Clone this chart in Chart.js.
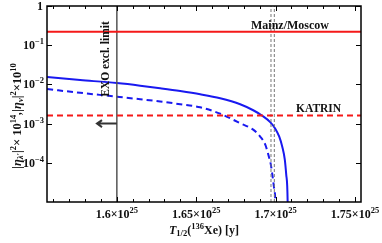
<!DOCTYPE html>
<html lang="en">
<head>
    <meta charset="UTF-8">
    <title>Half-life bounds</title>
    <script src="https://cdn.jsdelivr.net/npm/chart.js"></script>
    <style>
        html, body { margin: 0; padding: 0; background: #fff; }
    </style>
</head>
<body>
    <div style="width: 382px; height: 243px;">
        <canvas id="chart" width="382" height="243"></canvas>
    </div>

    <script>
        // x values in units of 10^25 years
        const xRange = [1.556, 1.7538];
        const yRange = [1e-5, 1];
        const xMajorTicks = [1.6, 1.65, 1.7, 1.75];
        const xTickLabels = ['1.6', '1.65', '1.7', '1.75'];
        const yMajorTicks = [1, 1e-1, 1e-2, 1e-3, 1e-4];
        const yTickExp = [null, '\u22121', '\u22122', '\u22123', '\u22124'];

        // horizontal bounds
        const mainzLevel = 0.22;
        const katrinLevel = 0.0016;

        // EXO exclusion line and the two thin dashed lines
        const exoLimit = 1.6;
        const grayDashedX = [1.6971, 1.6992];

        // blue solid curve
        const solidX = [1.5561, 1.5769, 1.6, 1.6147, 1.6273, 1.6399, 1.6525, 1.6651, 1.6777, 1.6859,
                        1.6916, 1.6966, 1.6998, 1.7023, 1.7042, 1.7058, 1.7067, 1.7076, 1.7078];
        const solidY = [0.01534, 0.01294, 0.01079, 0.00927, 0.00796, 0.00676, 0.0056, 0.00443, 0.00312, 0.00219,
                        0.00159, 0.00109, 0.000742, 0.000464, 0.000258, 0.000121, 0.00005, 0.0000097, 0.000001];

        // blue dashed curve
        const dashedX = [1.5561, 1.5769, 1.6, 1.6147, 1.6273, 1.6399, 1.6525, 1.6651, 1.6777, 1.6859,
                         1.6903, 1.6935, 1.6954, 1.697, 1.6982, 1.6992, 1.6998, 1.7];
        const dashedY = [0.00759, 0.00611, 0.00486, 0.00418, 0.00367, 0.00312, 0.00261, 0.00179, 0.00102, 0.0007,
                         0.000464, 0.00029, 0.000162, 0.00009, 0.000042, 0.0000208, 0.0000097, 0.000001];

        // arrow next to the EXO line
        const arrowFromX = 1.6;
        const arrowToX = 1.5875;
        const arrowY = 0.001;

        const RED = 'rgb(245,25,25)';
        const BLUE = 'rgb(25,25,240)';
        const FONT = '"Liberation Serif", "Times New Roman", serif';

        const toPoints = (xs, ys) => xs.map((x, i) => ({ x: x, y: ys[i] }));

        // draws text made of pieces with different sizes / offsets (sub and superscripts)
        function drawRich(ctx, parts, x, y, align) {
            let total = 0;
            parts.forEach(p => {
                ctx.font = (p.italic ? 'italic ' : '') + 'bold ' + p.size + 'px ' + FONT;
                p.w = ctx.measureText(p.t).width;
                total += p.w;
            });
            let cx = x;
            if (align === 'center') cx = x - total / 2;
            if (align === 'right') cx = x - total;
            ctx.textAlign = 'left';
            ctx.textBaseline = 'alphabetic';
            parts.forEach(p => {
                ctx.font = (p.italic ? 'italic ' : '') + 'bold ' + p.size + 'px ' + FONT;
                ctx.fillText(p.t, cx, y + (p.dy || 0));
                cx += p.w;
            });
        }

        const framePlugin = {
            id: 'frame',
            afterDraw(chart) {
                const ctx = chart.ctx;
                const a = chart.chartArea;
                const xs = chart.scales.x;
                const ys = chart.scales.y;
                ctx.save();

                // frame
                ctx.strokeStyle = '#000';
                ctx.lineWidth = 1.5;
                ctx.strokeRect(a.left, a.top, a.right - a.left, a.bottom - a.top);

                // inward ticks
                ctx.lineWidth = 1;
                ctx.beginPath();
                for (let i = 156; i <= 175; i++) {
                    const v = i / 100;
                    const px = Math.round(xs.getPixelForValue(v)) + 0.5;
                    const len = (i % 5 === 0) ? 5 : 3;
                    ctx.moveTo(px, a.bottom); ctx.lineTo(px, a.bottom - len);
                    ctx.moveTo(px, a.top); ctx.lineTo(px, a.top + len);
                }
                yMajorTicks.forEach(v => {
                    const py = Math.round(ys.getPixelForValue(v)) + 0.5;
                    ctx.moveTo(a.left, py); ctx.lineTo(a.left + 5, py);
                    ctx.moveTo(a.right, py); ctx.lineTo(a.right - 5, py);
                });
                ctx.stroke();

                ctx.fillStyle = '#111';
                // x tick labels
                xMajorTicks.forEach((v, i) => {
                    const px = xs.getPixelForValue(v);
                    drawRich(ctx, [
                        { t: xTickLabels[i] + '\u00d710', size: 12 },
                        { t: '25', size: 8.5, dy: -5 }
                    ], px, a.bottom + 16, 'center');
                });
                // y tick labels
                yMajorTicks.forEach((v, i) => {
                    const py = ys.getPixelForValue(v);
                    if (yTickExp[i] === null) {
                        drawRich(ctx, [{ t: '1', size: 12 }], a.left - 4, py + 4, 'right');
                    } else {
                        drawRich(ctx, [
                            { t: '10', size: 12 },
                            { t: yTickExp[i], size: 8.5, dy: -5 }
                        ], a.left - 3, py + 4, 'right');
                    }
                });

                // x axis title
                drawRich(ctx, [
                    { t: 'T', size: 12, italic: true },
                    { t: '1/2', size: 8.5, dy: 2 },
                    { t: '(', size: 12 },
                    { t: '136', size: 8.5, dy: -5 },
                    { t: 'Xe) [y]', size: 12 }
                ], (a.left + a.right) / 2, a.bottom + 32, 'center');

                // y axis title (rotated)
                ctx.save();
                ctx.translate(21, (a.top + a.bottom) / 2 + 12);
                ctx.rotate(-Math.PI / 2);
                drawRich(ctx, [
                    { t: '|\u03b7', size: 12.5, italic: true },
                    { t: '\u03bb\u2032', size: 8.5, dy: 2, italic: true },
                    { t: '|', size: 12.5 },
                    { t: '2', size: 8.5, dy: -5 },
                    { t: '\u00d7 10', size: 12.5 },
                    { t: '14', size: 8.5, dy: -5 },
                    { t: ',|\u03b7', size: 12.5, italic: true },
                    { t: '\u03bd', size: 8.5, dy: 2, italic: true },
                    { t: '|', size: 12.5 },
                    { t: '2', size: 8.5, dy: -5 },
                    { t: '\u00d710', size: 12.5 },
                    { t: '10', size: 8.5, dy: -5 }
                ], 0, 0, 'center');
                ctx.restore();

                // EXO label
                const exoPx = xs.getPixelForValue(exoLimit);
                ctx.save();
                ctx.translate(exoPx - 8, a.top + 53);
                ctx.rotate(-Math.PI / 2);
                drawRich(ctx, [{ t: 'EXO excl. limit', size: 11.5 }], 0, 0, 'center');
                ctx.restore();

                // line labels
                drawRich(ctx, [{ t: 'Mainz/Moscow', size: 12 }], 251, ys.getPixelForValue(mainzLevel) - 3, 'left');
                drawRich(ctx, [{ t: 'KATRIN', size: 11.5 }], 296, ys.getPixelForValue(katrinLevel) - 4, 'left');

                // arrow
                const ax0 = xs.getPixelForValue(arrowFromX);
                const ax1 = xs.getPixelForValue(arrowToX);
                const ay = ys.getPixelForValue(arrowY);
                ctx.strokeStyle = '#333';
                ctx.lineWidth = 2;
                ctx.beginPath();
                ctx.moveTo(ax0, ay); ctx.lineTo(ax1 + 1, ay);
                ctx.moveTo(ax1 + 5, ay - 3.5); ctx.lineTo(ax1, ay); ctx.lineTo(ax1 + 5, ay + 3.5);
                ctx.stroke();

                ctx.restore();
            }
        };

        const ctx = document.getElementById('chart').getContext('2d');
        new Chart(ctx, {
            type: 'line',
            data: {
                datasets: [
                    {
                        data: toPoints(xRange, [mainzLevel, mainzLevel]),
                        borderColor: RED, borderWidth: 2
                    },
                    {
                        data: toPoints(xRange, [katrinLevel, katrinLevel]),
                        borderColor: RED, borderWidth: 2, borderDash: [6, 4]
                    },
                    {
                        data: toPoints([exoLimit, exoLimit], yRange),
                        borderColor: '#555', borderWidth: 1.5
                    },
                    {
                        data: toPoints([grayDashedX[0], grayDashedX[0]], yRange),
                        borderColor: '#777', borderWidth: 1, borderDash: [3, 2]
                    },
                    {
                        data: toPoints([grayDashedX[1], grayDashedX[1]], yRange),
                        borderColor: '#777', borderWidth: 1, borderDash: [3, 2]
                    },
                    {
                        data: toPoints(solidX, solidY),
                        borderColor: BLUE, borderWidth: 2,
                        cubicInterpolationMode: 'monotone'
                    },
                    {
                        data: toPoints(dashedX, dashedY),
                        borderColor: BLUE, borderWidth: 2, borderDash: [6, 4],
                        cubicInterpolationMode: 'monotone'
                    }
                ]
            },
            options: {
                responsive: false,
                animation: false,
                events: [],
                layout: { padding: { left: 47, top: 6, right: 21, bottom: 41 } },
                elements: { point: { radius: 0 } },
                scales: {
                    x: { type: 'linear', min: xRange[0], max: xRange[1], display: false },
                    y: { type: 'logarithmic', min: yRange[0], max: yRange[1], display: false }
                },
                plugins: {
                    legend: { display: false },
                    tooltip: { enabled: false }
                }
            },
            plugins: [framePlugin]
        });
    </script>
</body>
</html>
